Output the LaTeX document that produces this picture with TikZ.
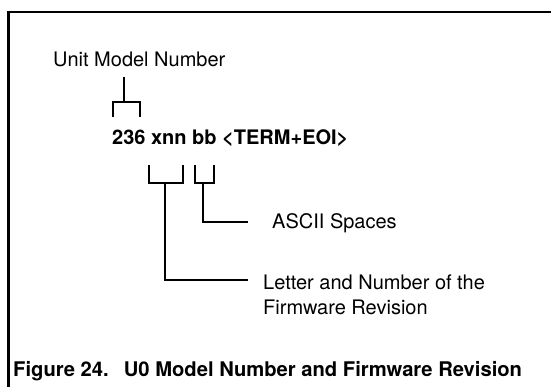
\documentclass[tikz,border=0pt]{standalone}
\usepackage{fontspec}
\setmainfont{TeX Gyre Heros}
\begin{document}
\begin{tikzpicture}[x=1pt,y=-1pt,
  lbl/.style={inner sep=0pt, font=\fontsize{20}{25}\selectfont},
  boldlbl/.style={inner sep=0pt, font=\fontsize{20}{25}\selectfont\bfseries},
  capstyle/.style={inner sep=0pt, font=\fontsize{20.2}{25}\selectfont\bfseries},
  wire/.style={line width=2pt},
  frame/.style={line width=2.8pt, line join=miter}]
\useasboundingbox (0,0) rectangle (551,387);
% frame (left and top only)
\coordinate (frameBL) at (8.5,387);
\coordinate (frameTL) at (8.5,12);
\coordinate (frameTR) at (551,12);
\draw[frame] (frameBL) -- (frameTL) -- (frameTR);
% texts
\node[lbl, anchor=base west] (unit) at (53,67) {Unit Model Number};
\node[boldlbl, anchor=base west] (code) at (112,145) {236 xnn bb <TERM+EOI>};
\node[lbl, anchor=base west] (ascii) at (272,229) {ASCII Spaces};
\node[lbl, anchor=north west, align=left] (letter) at (263,275) {Letter and Number of the\\Firmware Revision};
\node[capstyle, anchor=base west] (cap) at (13,376) {Figure 24.\hspace{0.75em}U0 Model Number and Firmware Revision};
% bracket under "Unit Model Number"
\coordinate (uTop) at (124,77);
\coordinate (uMid) at (124,102);
\coordinate (uL) at (113,117);
\coordinate (uR) at (140,117);
\draw[wire] (uTop) -- (uMid);
\draw[wire] (uL) |- (uMid) -| (uR);
% bracket under "xnn"
\coordinate (xL) at (149,165);
\coordinate (xR) at (183,165);
\coordinate (xM) at (165,183);
\coordinate (xEnd) at (248,280);
\draw[wire] (xL) |- (xM) -| (xR);
\draw[wire] (xM) |- (xEnd);
% bracket under "bb"
\coordinate (bL) at (195,165);
\coordinate (bR) at (214,165);
\coordinate (bM) at (203,183);
\coordinate (bEnd) at (248,222);
\draw[wire] (bL) |- (bM) -| (bR);
\draw[wire] (bM) |- (bEnd);
\end{tikzpicture}
\end{document}
